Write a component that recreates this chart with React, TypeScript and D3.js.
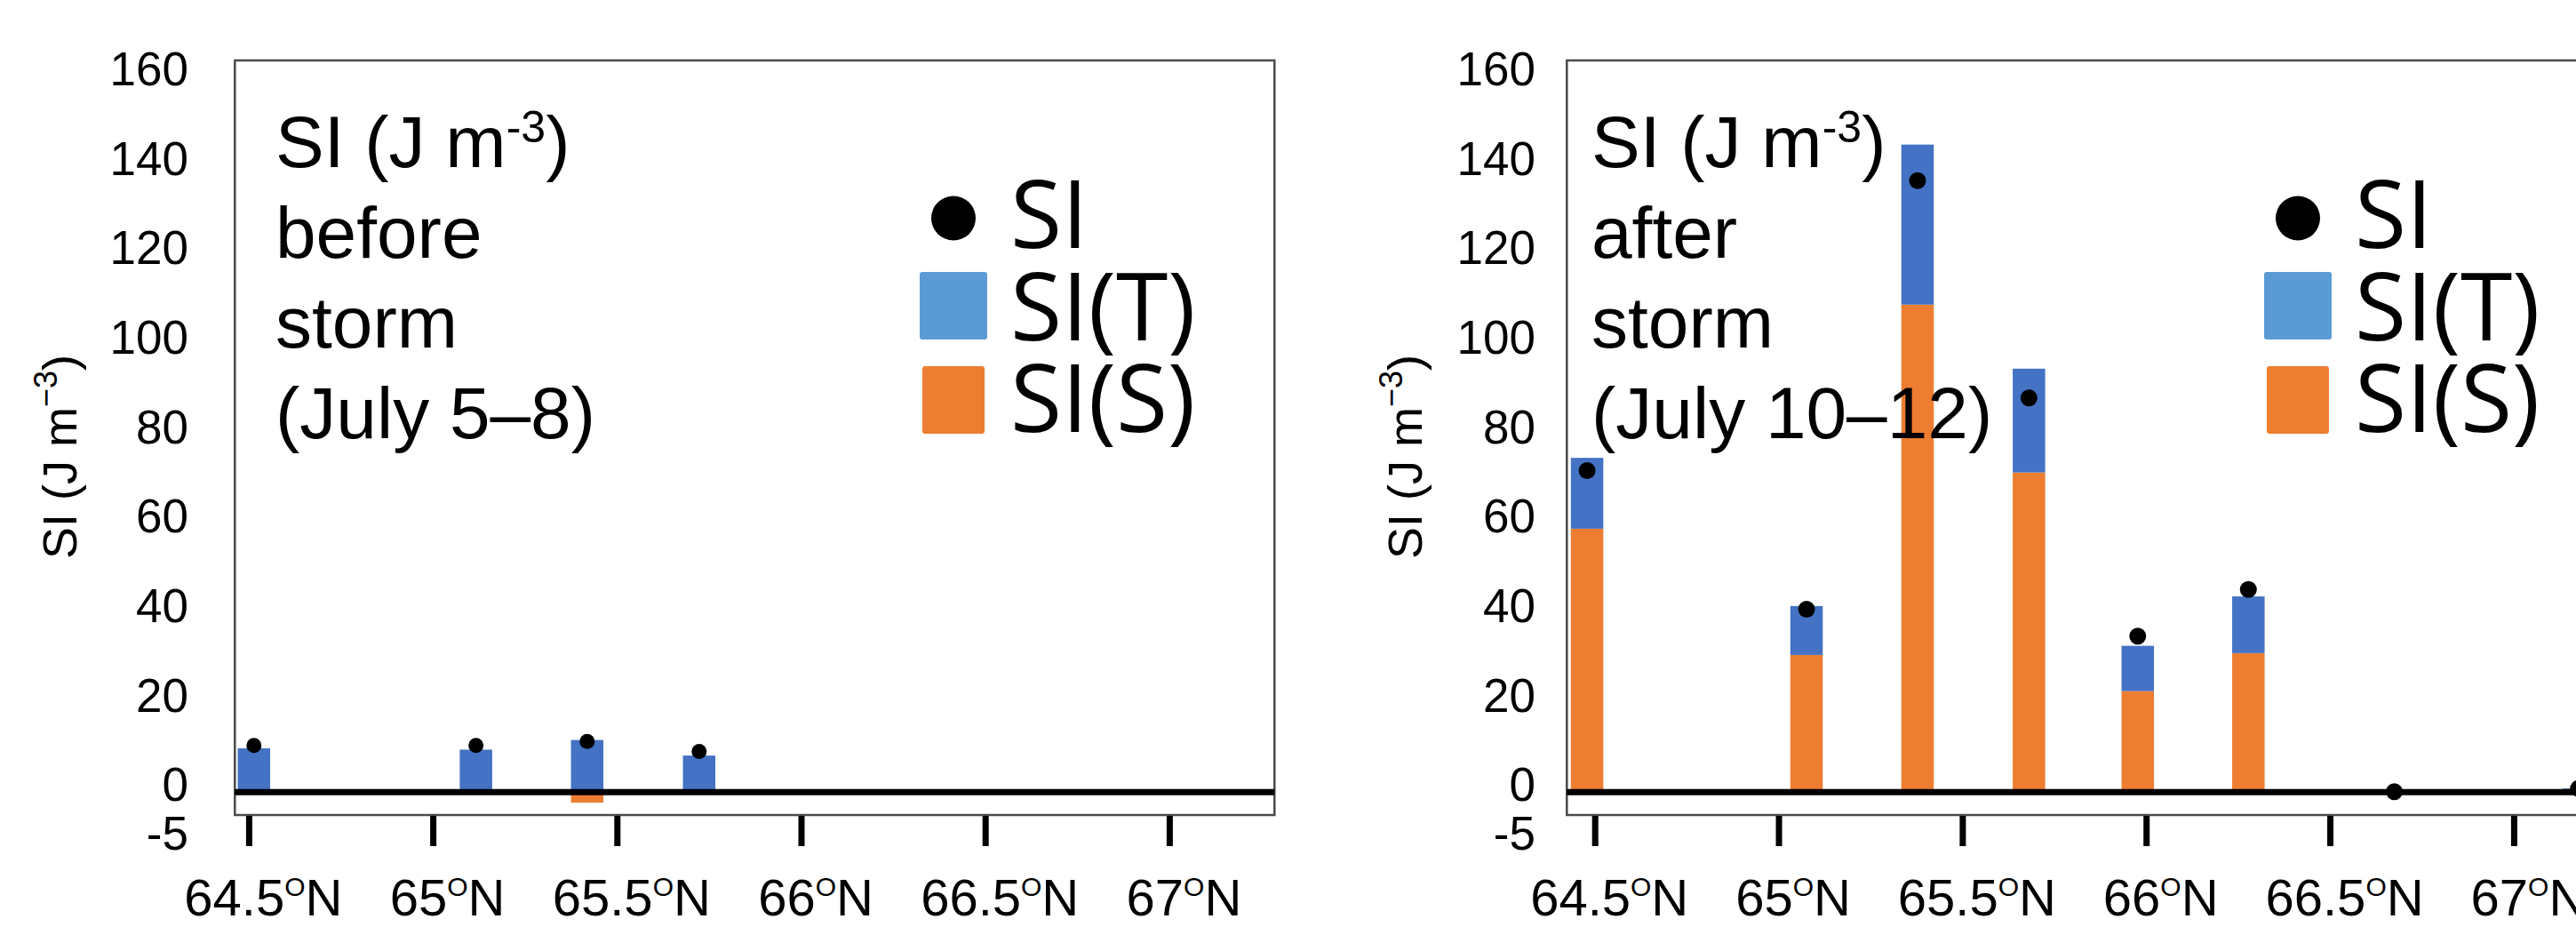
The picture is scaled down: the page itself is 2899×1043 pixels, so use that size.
import React from 'react';
import * as d3 from 'd3';

// ---------- data ----------
const yTickValues = [160, 140, 120, 100, 80, 60, 40, 20, 0, -5];
const xTickValues = [64.5, 65, 65.5, 66, 66.5, 67];
const legendNames = ['SI', 'SI(T)', 'SI(S)'];

// Before storm (July 5–8)
const beforeLat = [64.513, 65.116, 65.418, 65.722];
const beforeT = [9.6, 9.3, 11.4, 8.0];
const beforeS = [0, 0, -2.3, 0];
const beforeSI = [10.2, 10.2, 11.1, 8.9];

// After storm (July 10–12)
const afterLat = [64.478, 65.075, 65.377, 65.68, 65.976, 66.277, 66.674, 67.175];
const afterT = [15.5, 10.7, 35.0, 22.7, 9.9, 12.4, 0, 0.8];
const afterS = [57.6, 30.0, 106.6, 69.9, 22.1, 30.4, 0, 0];
const afterSI = [70.3, 40.0, 133.7, 86.2, 34.1, 44.3, 0.1, 0.8];

const beforeLines = ['before', 'storm', '(July 5–8)'];
const afterLines = ['after', 'storm', '(July 10–12)'];

// ---------- styles ----------
const W = 2899;
const H = 1043;
const BLUE = '#4472C4';
const ORANGE = '#ED7D31';
const LEGEND_BLUE = '#5B9BD5';
const SANS = '"Liberation Sans", Arial, Helvetica, sans-serif';
const LEGEND_FONT = '"Open Sans", "Liberation Sans", sans-serif';

const y = d3.scaleLinear().domain([-5, 160]).range([917, 68]);
// tick labels in the original sit on a slightly different grid than the plot box
const yLabel = d3.scaleLinear().domain([0, 160]).range([y(0) - 9, y(160) + 9]);
const yLabelPos = (v: number) => (v < 0 ? y(v) + 20 : yLabel(v));

interface PanelCfg {
  lat: number[];
  T: number[];
  S: number[];
  SI: number[];
  lines: string[];
  boxX0: number;
  boxX1: number;
  xRange: [number, number];
  labelRight: number;
  titleX: number;
  annX: number;
  legendX: number;
  dotR: number;
}

const panels: PanelCfg[] = [
  {
    lat: beforeLat, T: beforeT, S: beforeS, SI: beforeSI, lines: beforeLines,
    boxX0: 264.3, boxX1: 1434.3, xRange: [280.4, 1316.4], labelRight: 212,
    titleX: 86, annX: 310, legendX: 1073, dotR: 8.5,
  },
  {
    lat: afterLat, T: afterT, S: afterS, SI: afterSI, lines: afterLines,
    boxX0: 1763.3, boxX1: 2933.3, xRange: [1795.2, 2829.4], labelRight: 1728,
    titleX: 1600, annX: 1791, legendX: 2586, dotR: 9.5,
  },
];

const BAR_W = 36.5;

function Panel({ p }: { p: PanelCfg }) {
  const x = d3.scaleLinear().domain([64.5, 67]).range(p.xRange);
  const stacks = p.lat.map((lat, i) => {
    const t = p.T[i];
    const s = p.S[i];
    const sTop = Math.max(s, 0);
    return { lat, s0: 0, s1: s, t0: sTop, t1: sTop + t };
  });
  const boxTop = y(160);
  const boxBottom = y(-5);
  const annBase = 188;
  const lineStep = 101.5;
  return (
    <g>
      {/* plot box */}
      <rect x={p.boxX0} y={boxTop} width={p.boxX1 - p.boxX0} height={boxBottom - boxTop}
        fill="none" stroke="#4a4a4a" strokeWidth={2.5} />

      {/* bars */}
      {stacks.map((d, i) => (
        <g key={'b' + i}>
          {d.s1 !== 0 && (
            <rect x={x(d.lat) - BAR_W / 2} y={Math.min(y(d.s0), y(d.s1))} width={BAR_W}
              height={Math.abs(y(d.s1) - y(d.s0))} fill={ORANGE} />
          )}
          {d.t1 - d.t0 !== 0 && (
            <rect x={x(d.lat) - BAR_W / 2} y={y(d.t1)} width={BAR_W}
              height={y(d.t0) - y(d.t1)} fill={BLUE} />
          )}
        </g>
      ))}

      {/* zero line */}
      <line x1={p.boxX0} x2={p.boxX1} y1={y(0)} y2={y(0)} stroke="#000" strokeWidth={7} />

      {/* SI dots */}
      {p.lat.map((lat, i) => (
        <circle key={'d' + i} cx={x(lat)} cy={y(p.SI[i])} r={p.dotR} fill="#000" />
      ))}

      {/* x ticks */}
      {xTickValues.map((v) => (
        <g key={'xt' + v}>
          <line x1={x(v)} x2={x(v)} y1={boxBottom + 1} y2={boxBottom + 35} stroke="#000" strokeWidth={7} />
          <text x={x(v) + 16} y={1030} textAnchor="middle" fontFamily={SANS} fontSize={58} fill="#000">
            {String(v)}
            <tspan fontSize={30} dy={-22}>O</tspan>
            <tspan fontSize={58} dy={22}>N</tspan>
          </text>
        </g>
      ))}

      {/* y tick labels */}
      {yTickValues.map((v) => (
        <text key={'yt' + v} x={p.labelRight} y={yLabelPos(v)} dy="0.36em" textAnchor="end"
          fontFamily={SANS} fontSize={53} fill="#000">
          {String(v)}
        </text>
      ))}

      {/* y axis title */}
      <text transform={`translate(${p.titleX},514) rotate(-90)`} textAnchor="middle"
        fontFamily={SANS} fontSize={54} fill="#000">
        SI (J m<tspan fontSize={36} dy={-22}>−3</tspan><tspan dy={22}>)</tspan>
      </text>

      {/* annotation */}
      <text x={p.annX} y={annBase} fontFamily={SANS} fontSize={82} fill="#000">
        SI (J m<tspan fontSize={50} dy={-28}>-3</tspan><tspan dy={28}>)</tspan>
      </text>
      {p.lines.map((l, i) => (
        <text key={'l' + i} x={p.annX} y={annBase + (i + 1) * lineStep}
          fontFamily={SANS} fontSize={82} fill="#000">
          {l}
        </text>
      ))}

      {/* legend */}
      <circle cx={p.legendX} cy={245.5} r={25} fill="#000" />
      <rect x={p.legendX - 38} y={306} width={76} height={76} rx={3} fill={LEGEND_BLUE} />
      <rect x={p.legendX - 35} y={412} width={70} height={76} rx={3} fill={ORANGE} />
      {legendNames.map((n, i) => (
        <text key={'lg' + i} x={p.legendX + 64} y={279 + i * 103.5}
          fontFamily={LEGEND_FONT} fontSize={106} fill="#000">
          {n}
        </text>
      ))}
    </g>
  );
}

export default function App() {
  return (
    <svg width={W} height={H} viewBox={`0 0 ${W} ${H}`}
      style={{ position: 'absolute', left: 0, top: 0, display: 'block', background: '#fff' }}>
      <rect x={0} y={0} width={W} height={H} fill="#fff" />
      {panels.map((p, i) => (
        <Panel key={i} p={p} />
      ))}
    </svg>
  );
}
